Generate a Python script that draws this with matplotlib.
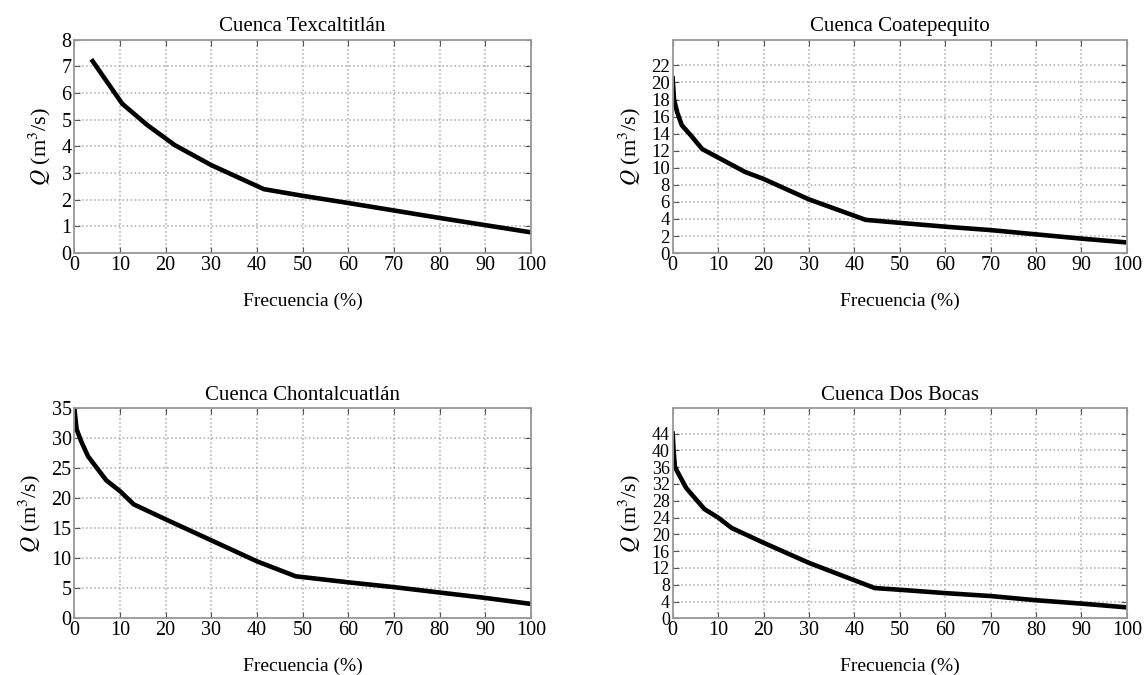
import matplotlib
matplotlib.use('Agg')
import matplotlib.pyplot as plt
import numpy as np

plt.rcParams['font.family'] = ['Liberation Serif', 'DejaVu Serif']
plt.rcParams['mathtext.fontset'] = 'stix'

# data
titles = ['Cuenca Texcaltitlán', 'Cuenca Coatepequito',
          'Cuenca Chontalcuatlán', 'Cuenca Dos Bocas']

x_tex = [4, 10.5, 16, 22, 30, 41.5, 50, 60, 70, 80, 90, 100]
q_tex = [7.2, 5.6, 4.8, 4.05, 3.3, 2.4, 2.15, 1.88, 1.6, 1.32, 1.05, 0.78]

x_coa = [0, 0.3, 1, 2, 4, 6.5, 10, 16, 20, 30, 42.5, 50, 60, 70, 80, 90, 100]
q_coa = [20.5, 18, 16.5, 15, 13.8, 12.2, 11.2, 9.5, 8.7, 6.3, 3.9, 3.55, 3.1, 2.7, 2.2, 1.7, 1.25]

x_cho = [0, 0.5, 1.5, 3, 5, 7, 10, 13, 20, 30, 40, 48.5, 60, 70, 80, 90, 100]
q_cho = [35, 31.5, 29.5, 27, 25, 23, 21.2, 19, 16.5, 13, 9.5, 7, 6, 5.2, 4.3, 3.4, 2.4]

x_dos = [0, 0.2, 0.5, 1.5, 3, 5, 7, 10, 13, 20, 30, 44.5, 50, 60, 70, 80, 90, 100]
q_dos = [44, 40, 36, 34, 31, 28.5, 26, 24, 21.5, 18, 13.2, 7.2, 6.8, 6, 5.3, 4.3, 3.5, 2.6]

xs = [x_tex, x_coa, x_cho, x_dos]
qs = [q_tex, q_coa, q_cho, q_dos]
ylims = [(0, 8), (0, 25), (0, 35), (0, 50)]
yticks = [np.arange(0, 9, 1), np.arange(0, 23, 2), np.arange(0, 36, 5), np.arange(0, 45, 4)]
ysizes = [14.5, 13.5, 14.5, 13]

# axes boxes in figure fractions [left, bottom, width, height]
boxes = [[0.065, 0.625, 0.399, 0.316],
         [0.588, 0.625, 0.397, 0.316],
         [0.065, 0.084, 0.399, 0.311],
         [0.588, 0.084, 0.397, 0.311]]

fig = plt.figure(figsize=(11.44, 6.75), dpi=100)

for i in range(4):
    ax = fig.add_axes(boxes[i])
    ax.plot(xs[i], qs[i], color='black', linewidth=3.3, solid_joinstyle='round')
    ax.set_xlim(0, 100)
    ax.set_ylim(*ylims[i])
    ax.set_xticks(np.arange(0, 101, 10))
    ax.set_yticks(yticks[i])
    ax.grid(True, linestyle=':', color='#aaaaaa', linewidth=1.1)
    ax.tick_params(direction='in', length=4, top=True, right=True,
                   labelsize=14.5, color='#555555', pad=2)
    ax.tick_params(axis='y', labelsize=ysizes[i])
    for s in ax.spines.values():
        s.set_color('#999999')
        s.set_linewidth(1.3)
    ax.set_title(titles[i], fontsize=15, pad=6)
    ax.set_xlabel('Frecuencia (%)', fontsize=14, labelpad=13)
    ax.set_ylabel(r'$Q$ (m$^3$/s)', fontsize=16, labelpad=6)

fig.savefig('out.png', dpi=100)
